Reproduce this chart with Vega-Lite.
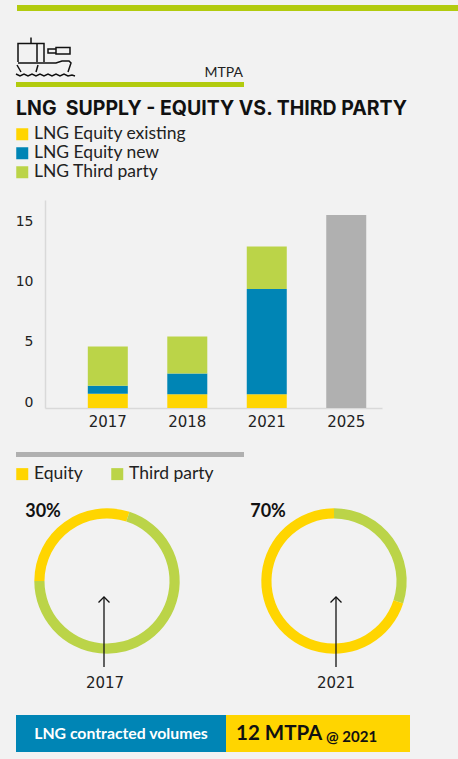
{
"$schema":"https://vega.github.io/schema/vega-lite/v6.json",
"width":458,"height":759,"padding":0,
"autosize":{"type":"fit","contains":"padding"},
"background":"#F2F2F2",
"config":{"view":{"stroke":null},"font":"Lato"},
"datasets":{
"bars":[
{"year":"2017","series":"LNG Equity existing","rank":1,"mtpa":1.19},
{"year":"2017","series":"LNG Equity new","rank":2,"mtpa":0.66},
{"year":"2017","series":"LNG Third party","rank":3,"mtpa":3.26},
{"year":"2018","series":"LNG Equity existing","rank":1,"mtpa":1.13},
{"year":"2018","series":"LNG Equity new","rank":2,"mtpa":1.74},
{"year":"2018","series":"LNG Third party","rank":3,"mtpa":3.07},
{"year":"2021","series":"LNG Equity existing","rank":1,"mtpa":1.13},
{"year":"2021","series":"LNG Equity new","rank":2,"mtpa":8.73},
{"year":"2021","series":"LNG Third party","rank":3,"mtpa":3.54},
{"year":"2025","series":"Total","rank":4,"mtpa":16.0}],
"share":[
{"year":"2017","kind":"Equity","rank":1,"pct":30},
{"year":"2017","kind":"Third party","rank":2,"pct":70},
{"year":"2021","kind":"Third party","rank":1,"pct":30},
{"year":"2021","kind":"Equity","rank":2,"pct":70}],
"labels":[{"year":"2017","label":"30%"},{"year":"2021","label":"70%"}]
},
"resolve":{"scale":{"x":"independent","y":"independent","color":"independent","theta":"independent"},"axis":{"x":"independent","y":"independent"},"legend":{"color":"independent"}},
"layer":[
{"data":{"values":[{"item":"top rule"}]},"mark":{"type":"rect","color":"#B2CB0E"},"encoding":{"x":{"value":17},"x2":{"value":458},"y":{"value":5},"y2":{"value":11}}},
{"data":{"values":[{"item":"header rule"}]},"mark":{"type":"rect","color":"#B2CB0E"},"encoding":{"x":{"value":16},"x2":{"value":244},"y":{"value":82},"y2":{"value":87}}},
{"data":{"values":[{"item":"section rule"}]},"mark":{"type":"rect","color":"#B0B0B0"},"encoding":{"x":{"value":16},"x2":{"value":244},"y":{"value":452},"y2":{"value":457}}},
{"data":{"values":[{"item":"ship icon"}]},"mark":{"type":"point","filled":false,"stroke":"#111111","strokeWidth":1.5,"opacity":1,"size":4,"x":0,"y":0,
"shape":"M31,37.5L31,43.5M18,62L18,43.5L44,43.5L44,62M37,43.5L37,62M56,47.5L70,47.5L70,54L56,54ZM48,49L56,49L56,53L48,53ZM18,63L56,63L62,61L69,61L71,63L68,72M17,65L21,72M38,65L36,72M16,74L20,76L24,74L28,76L32,74L36,76L40,74L44,76L48,74L52,76L56,74L60,76L64,74L68,76L72,75L75,76"}},
{"data":{"values":[{"label":"MTPA"}]},"mark":{"type":"text","align":"right","baseline":"middle","fontSize":14,"color":"#222222","x":243,"y":73},"encoding":{"text":{"field":"label"}}},
{"data":{"values":[{"label":"LNG\u00a0 SUPPLY - EQUITY VS. THIRD PARTY"}]},"mark":{"type":"text","align":"left","baseline":"middle","font":"Inter","fontWeight":"bold","fontSize":19.5,"color":"#111111","x":16,"y":109},"encoding":{"text":{"field":"label"}}},
{"data":{"name":"bars"},"mark":{"type":"bar","width":40},
"encoding":{
"x":{"field":"year","type":"nominal","title":null,"scale":{"type":"band","range":[45,382],"paddingInner":0.5,"paddingOuter":0.37,"align":0.73},
"axis":{"orient":"bottom","offset":-351,"domainColor":"#D9D9D9","domainWidth":1.5,"ticks":false,"labelAngle":0,"labelFont":"DejaVu Sans","labelFontSize":15,"labelColor":"#222222","labelPadding":6}},
"y":{"field":"mtpa","type":"quantitative","stack":"zero","title":null,"scale":{"domain":[0,17.25],"nice":false,"range":[408,200]},
"axis":{"orient":"left","offset":-45,"values":[0,5,10,15],"grid":false,"domainColor":"#D9D9D9","domainWidth":1.5,"ticks":false,"labelFont":"DejaVu Sans","labelFontSize":14,"labelColor":"#222222","labelPadding":12,"labelOffset":-6}},
"color":{"field":"series","type":"nominal","scale":{"domain":["LNG Equity existing","LNG Equity new","LNG Third party","Total"],"range":["#FFD500","#0085B5","#BBD448","#B0B0B0"]},
"legend":{"values":["LNG Equity existing","LNG Equity new","LNG Third party"],"title":null,"orient":"none","legendX":13.5,"legendY":125.5,"padding":0,"symbolType":"square","symbolSize":144,"symbolStrokeWidth":0,"symbolOpacity":1,"labelFontSize":17.5,"labelOffset":3,"labelColor":"#222222","rowPadding":0}},
"order":{"field":"rank","type":"quantitative"}}},
{"data":{"name":"share"},"transform":[{"filter":"datum.year==='2017'"}],"mark":{"type":"arc","innerRadius":62.5,"outerRadius":72.7},
"encoding":{
"x":{"field":"year","type":"nominal","axis":null,"scale":{"type":"point","padding":0,"domain":["2017","2021"],"range":[107,334]}},
"y":{"value":581},
"theta":{"field":"pct","type":"quantitative","stack":"zero","scale":{"domain":[0,100],"range":[-1.5708,4.7124]}},
"color":{"field":"kind","type":"nominal","scale":{"domain":["Equity","Third party"],"range":["#FFD500","#BBD448"]},
"legend":{"title":null,"orient":"none","legendX":13.5,"legendY":465,"padding":0,"columns":2,"columnPadding":25,"symbolType":"square","symbolSize":144,"symbolStrokeWidth":0,"symbolOpacity":1,"labelFontSize":17.5,"labelOffset":3,"labelColor":"#222222"}},
"order":{"field":"rank","type":"quantitative"}}},
{"data":{"name":"share"},"transform":[{"filter":"datum.year==='2021'"}],"mark":{"type":"arc","innerRadius":62.5,"outerRadius":72.7},
"encoding":{
"x":{"field":"year","type":"nominal","axis":null,"scale":{"type":"point","padding":0,"domain":["2017","2021"],"range":[107,334]}},
"y":{"value":581},
"theta":{"field":"pct","type":"quantitative","stack":"zero","scale":{"domain":[0,100],"range":[0,6.2832]}},
"color":{"field":"kind","type":"nominal","legend":null,"scale":{"domain":["Equity","Third party"],"range":["#FFD500","#BBD448"]}},
"order":{"field":"rank","type":"quantitative"}}},
{"data":{"name":"labels"},"mark":{"type":"rule","color":"#111111","strokeWidth":1.3},
"encoding":{"x":{"field":"year","type":"nominal","axis":null,"scale":{"type":"point","padding":0,"domain":["2017","2021"],"range":[104,336]}},"y":{"value":597},"y2":{"value":667}}},
{"data":{"name":"labels"},"mark":{"type":"point","filled":false,"stroke":"#111111","strokeWidth":1.3,"opacity":1,"size":4,"shape":"M-5.5,5.5L0,0L5.5,5.5"},
"encoding":{"x":{"field":"year","type":"nominal","axis":null,"scale":{"type":"point","padding":0,"domain":["2017","2021"],"range":[104,336]}},"y":{"value":597}}},
{"data":{"name":"labels"},"mark":{"type":"text","font":"DejaVu Sans","fontSize":15,"color":"#222222"},
"encoding":{"x":{"field":"year","type":"nominal","axis":null,"scale":{"type":"point","padding":0,"domain":["2017","2021"],"range":[105,336]}},"y":{"value":683},"text":{"field":"year"}}},
{"data":{"name":"labels"},"mark":{"type":"text","fontWeight":"bold","fontSize":18,"color":"#111111"},
"encoding":{"x":{"field":"year","type":"nominal","axis":null,"scale":{"type":"point","padding":0,"domain":["2017","2021"],"range":[43,268]}},"y":{"value":512},"text":{"field":"label"}}},
{"data":{"values":[{"item":"contracted label"}]},"mark":{"type":"rect","color":"#0085B5"},"encoding":{"x":{"value":16},"x2":{"value":226},"y":{"value":715},"y2":{"value":752}}},
{"data":{"values":[{"item":"contracted value"}]},"mark":{"type":"rect","color":"#FFD500"},"encoding":{"x":{"value":226},"x2":{"value":410},"y":{"value":715},"y2":{"value":752}}},
{"data":{"values":[{"label":"LNG contracted volumes"}]},"mark":{"type":"text","fontWeight":"bold","fontSize":15.8,"color":"#FFFFFF","x":121,"y":734},"encoding":{"text":{"field":"label"}}},
{"data":{"values":[{"label":"12 MTPA"}]},"mark":{"type":"text","align":"left","fontWeight":"bold","fontSize":20.5,"color":"#111111","x":236,"y":734},"encoding":{"text":{"field":"label"}}},
{"data":{"values":[{"label":"@ 2021"}]},"mark":{"type":"text","align":"left","fontWeight":"bold","fontSize":15,"color":"#111111","x":326,"y":737},"encoding":{"text":{"field":"label"}}}
]
}
